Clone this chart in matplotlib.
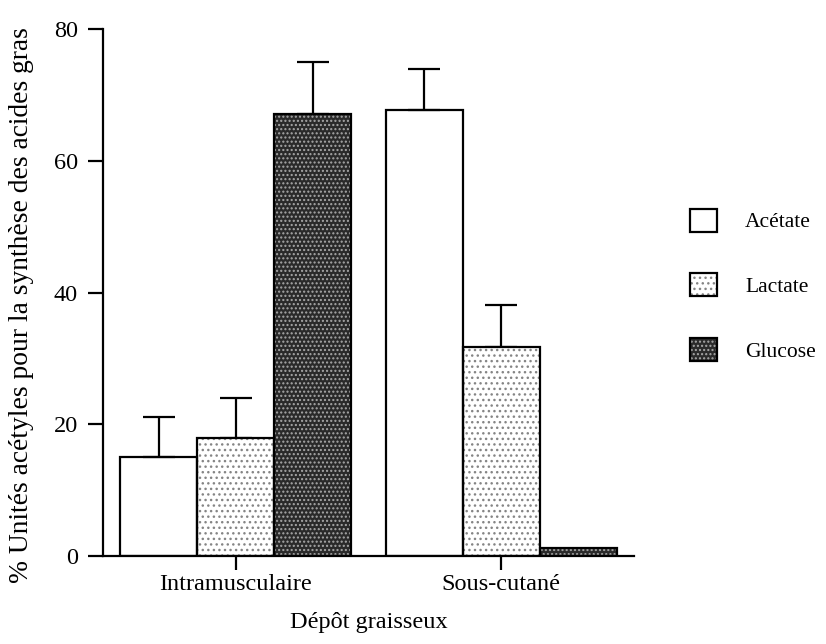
import matplotlib
matplotlib.use("Agg")
import matplotlib.pyplot as plt
import numpy as np
from matplotlib.patches import Patch
from matplotlib.legend_handler import HandlerTuple

plt.rcParams['font.family'] = ['Liberation Serif', 'DejaVu Serif']

categories = ["Intramusculaire", "Sous-cutané"]
series = ["Acétate", "Lactate", "Glucose"]
acetate = [15.0, 67.8]
lactate = [17.9, 31.8]
glucose = [67.2, 1.2]
acetate_err = [6.1, 6.2]
lactate_err = [6.1, 6.3]
glucose_err = [7.9, 0.0]
yticks = [0, 20, 40, 60, 80]

values = [acetate, lactate, glucose]
errors = [acetate_err, lactate_err, glucose_err]
faces = ["white", "white", "#2a2a2a"]
hatches = [None, "...", "...."]
hatch_cols = ["black", "#858585", "#a8a8a8"]

fig = plt.figure(figsize=(8.26, 6.44), dpi=100)
ax = fig.add_axes([0.1247, 0.1366, 0.6429, 0.8176])

x = np.arange(len(categories))
w = 0.29
offsets = [-w, 0, w]
fs = 17.5
lfs = 15.5
handles = []
for i, s in enumerate(series):
    xs = x + offsets[i]
    parts = []
    if hatches[i]:
        ax.bar(xs, values[i], width=w, color=faces[i], hatch=hatches[i],
               edgecolor=hatch_cols[i], linewidth=0, zorder=2)
        parts.append(Patch(facecolor=faces[i], edgecolor=hatch_cols[i],
                           hatch=hatches[i], linewidth=0))
    ax.bar(xs, values[i], width=w, facecolor="none", edgecolor="black",
           linewidth=1.6, zorder=3)
    parts.append(Patch(facecolor="none" if hatches[i] else "white",
                       edgecolor="black", linewidth=1.6))
    errs = np.array(errors[i])
    mask = errs > 0
    ax.errorbar(xs[mask], np.array(values[i])[mask],
                yerr=[np.zeros(mask.sum()), errs[mask]],
                fmt="none", ecolor="black", elinewidth=1.6, capsize=11.5,
                capthick=1.6, zorder=1)
    handles.append(tuple(parts))

ax.set_xlim(-0.5, 1.5)
ax.set_ylim(0, 80)
ax.set_yticks(yticks)
ax.set_yticklabels([str(t) for t in yticks], fontsize=fs)
ax.set_xticks(x)
ax.set_xticklabels(categories, fontsize=fs)
ax.tick_params(axis="y", length=11, width=1.6, pad=7)
ax.tick_params(axis="x", length=10, width=1.6, pad=3)
for sp in ["top", "right"]:
    ax.spines[sp].set_visible(False)
for sp in ["left", "bottom"]:
    ax.spines[sp].set_linewidth(1.6)

ax.set_xlabel("Dépôt graisseux", fontsize=fs, labelpad=12)
ax.set_ylabel("% Unités acétyles pour la synthèse des acides gras", fontsize=19.8)
ax.yaxis.set_label_coords(-0.13, 0.477)

leg = fig.legend(handles=handles, labels=series, loc="upper left",
                 bbox_to_anchor=(0.8115, 0.7063),
                 handler_map={tuple: HandlerTuple(ndivide=1, pad=0)},
                 frameon=False, fontsize=lfs, handlelength=1.29, handleheight=1.29,
                 labelspacing=1.89, handletextpad=1.29)

fig.savefig("out.png", dpi=100)
